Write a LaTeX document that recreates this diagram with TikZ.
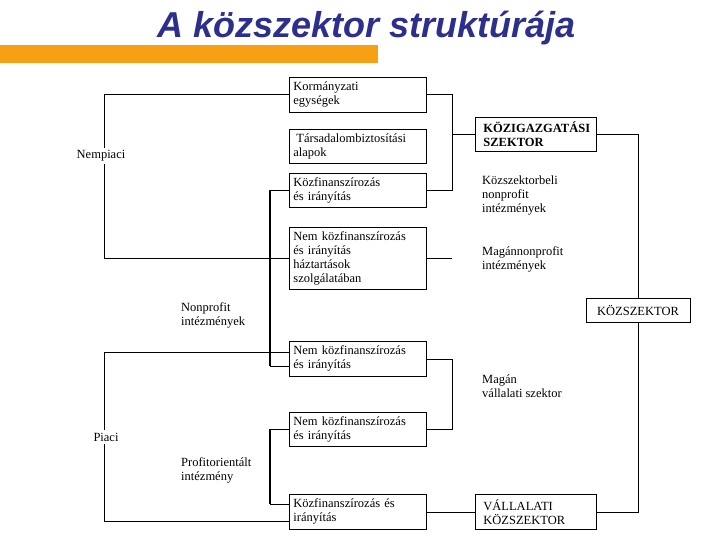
\documentclass[tikz,border=0pt]{standalone}
\usepackage{fontspec}
\setmainfont{Liberation Serif}
\newfontfamily\titlefont{Liberation Sans}
\definecolor{titleblue}{RGB}{44,47,140}
\definecolor{barorange}{RGB}{248,160,20}
\begin{document}
\begin{tikzpicture}[x=1pt,y=-1pt,
  every node/.style={font=\fontsize{12.5}{14}\selectfont},
  lbox/.style={draw,line width=0.8pt,anchor=north west,align=left,inner xsep=4pt,inner ysep=0pt,text width=129pt,minimum width=137pt},
  rbox/.style={draw,line width=0.8pt,anchor=north west,align=left,inner xsep=8pt,inner ysep=0pt,text width=105pt,minimum width=121pt},
  lbl/.style={anchor=west,align=left,inner sep=0pt},
  conn/.style={line width=0.8pt},
  thickconn/.style={line width=2.2pt}]
\useasboundingbox (0,0) rectangle (720,540);
% title
\fill[barorange] (0,45) rectangle (378,63);
\node[anchor=base,inner sep=0pt,text=titleblue,font=\titlefont\bfseries\itshape\fontsize{36}{40}\selectfont] (title) at (366.5,38) {A közszektor struktúrája};
% left boxes
\node[lbox,minimum height=35pt] (k1) at (289,77) {Kormányzati\\egységek};
\node[lbox,minimum height=34pt] (k2) at (289,129) {\hspace{3pt}Társadalombiztosítási\\alapok};
\node[lbox,minimum height=34pt] (k3) at (289,173) {Közfinanszírozás\\és irányítás};
\node[lbox,minimum height=62pt] (k4) at (289,227) {Nem közfinanszírozás\\és irányítás\\háztartások\\szolgálatában};
\node[lbox,minimum height=35pt] (k5) at (289,341) {Nem közfinanszírozás\\és irányítás};
\node[lbox,minimum height=34pt] (k6) at (289,412) {Nem közfinanszírozás\\és irányítás};
\node[lbox,minimum height=35pt] (k7) at (289,494) {Közfinanszírozás és\\irányítás};
% right boxes
\node[rbox,minimum height=34pt,font=\bfseries\fontsize{12.5}{14}\selectfont] (kig) at (475,117) {KÖZIGAZGATÁSI\\SZEKTOR};
\node[draw,line width=0.8pt,minimum width=104pt,minimum height=24pt,inner sep=0pt] (ks) at (638,310) {KÖZSZEKTOR};
\node[rbox,minimum height=35pt] (v) at (475,494) {VÁLLALATI\\KÖZSZEKTOR};
% junction coordinates
\coordinate (jl) at (104,0);
\coordinate (jn) at (270,0);
\coordinate (jr) at (452,0);
\coordinate (k5hi) at ([yshift=7pt]k5.west);
\coordinate (k5lo) at ([yshift=-7pt]k5.west);
\coordinate (k7hi) at ([yshift=7.5pt]k7.west);
\coordinate (k7lo) at ([yshift=-9.5pt]k7.west);
% left brackets
\draw[conn] (k1.west) -| (jl |- k4.west) -- (k4.west);
\draw[conn] (k5hi) -| (jl |- k7lo) -- (k7lo);
\draw[conn] (k3.west) -- (jn |- k3.west);
\draw[thickconn] (jn |- k3.west) -- (jn |- k5lo);
\draw[conn] (jn |- k5lo) -- (k5lo);
\draw[conn] (k6.west) -- (jn |- k6.west);
\draw[thickconn] (jn |- k6.west) -- (jn |- k7hi);
\draw[conn] (jn |- k7hi) -- (k7hi);
% right side of left boxes
\draw[conn] (k1.east) -| (jr |- k3.east) -- (k3.east);
\draw[conn] (jr |- kig.west) -- (kig.west);
\draw[conn] (k4.east) -- (jr |- k4.east);
\draw[conn] (k5.east) -| (jr |- k6.east) -- (k6.east);
\draw[conn] (k7.east) -- (v.west);
% right sector connectors
\draw[conn] (kig.east) -| (ks.north);
\draw[conn] (ks.south) |- (v.east);
% labels
\node[fill=white,inner xsep=1pt,inner ysep=3pt] (np) at (101,156) {Nempiaci};
\node[fill=white,inner xsep=1pt,inner ysep=3pt] (pi) at (106,437) {Piaci};
\node[lbl] (nonp) at (181,315) {Nonprofit\\intézmények};
\node[lbl] (prof) at (181,470) {Profitorientált\\intézmény};
\node[lbl] (kszb) at (482,196) {Közszektorbeli\\nonprofit\\intézmények};
\node[lbl] (mnp) at (482,259) {Magánnonprofit\\intézmények};
\node[lbl] (mvsz) at (482,386) {Magán\\vállalati szektor};
\end{tikzpicture}
\end{document}
